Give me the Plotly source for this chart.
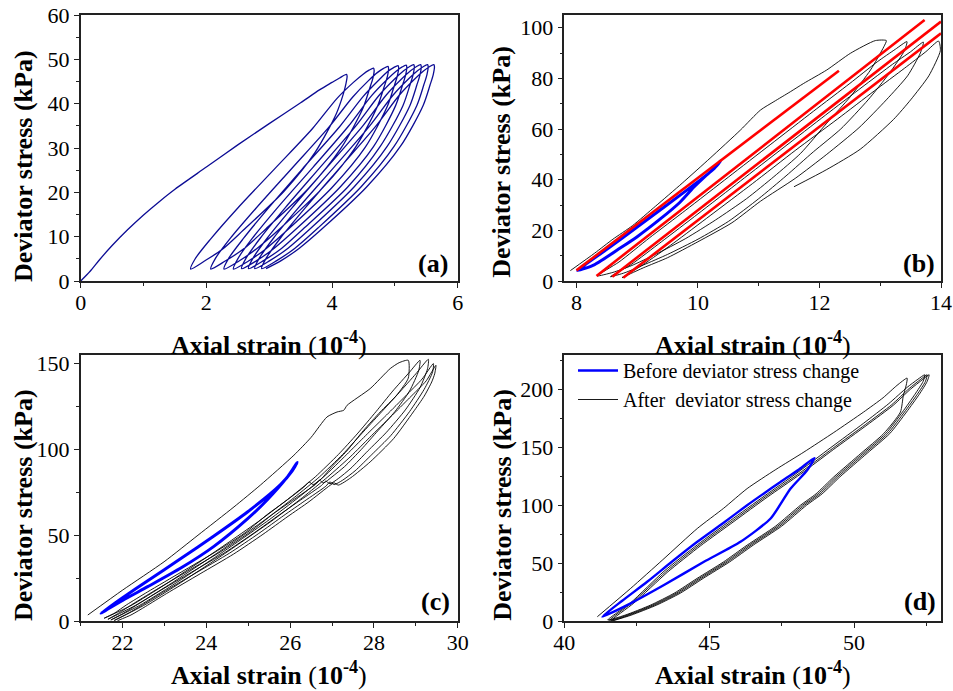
import plotly.graph_objects as go

SERIF = '"Liberation Serif", "Times New Roman", Times, serif'

# ---------------- Panel (a): cyclic loops, one continuous record ----------------
a_strain = [
    0, 0.15, 0.3, 0.5, 0.75, 1.0, 1.25, 1.5, 2.0, 2.5, 3.0, 3.5, 3.8, 4.0, 4.12, 4.23,
    4.24, 4.22, 4.18, 4.07, 3.73, 3.24, 2.59, 2.25, 1.97, 1.75,
    1.82, 2.07, 2.49, 3.09, 3.69, 4.08, 4.34, 4.49, 4.59, 4.66,
    4.67, 4.65, 4.60, 4.49, 4.14, 3.62, 2.95, 2.59, 2.30, 2.07,
    2.14, 2.38, 2.79, 3.37, 3.95, 4.33, 4.58, 4.72, 4.82, 4.89,
    4.90, 4.88, 4.83, 4.72, 4.37, 3.85, 3.17, 2.80, 2.52, 2.28,
    2.35, 2.59, 2.99, 3.55, 4.12, 4.50, 4.75, 4.88, 4.98, 5.05,
    5.06, 5.04, 4.99, 4.88, 4.53, 4.00, 3.32, 2.95, 2.67, 2.43,
    2.50, 2.73, 3.13, 3.70, 4.26, 4.63, 4.88, 5.02, 5.11, 5.18,
    5.19, 5.17, 5.12, 5.01, 4.66, 4.13, 3.45, 3.08, 2.80, 2.56,
    2.63, 2.86, 3.26, 3.82, 4.38, 4.75, 5.00, 5.14, 5.23, 5.30,
    5.31, 5.29, 5.24, 5.13, 4.77, 4.25, 3.56, 3.20, 2.91, 2.67,
    2.74, 2.97, 3.37, 3.93, 4.49, 4.86, 5.11, 5.25, 5.34, 5.41,
    5.42, 5.40, 5.35, 5.24, 4.88, 4.35, 3.67, 3.30, 3.01, 2.77,
    2.84, 3.07, 3.47, 4.04, 4.60, 4.97, 5.22, 5.36, 5.45, 5.52,
    5.53, 5.51, 5.46, 5.35, 4.99, 4.46, 3.78, 3.41, 3.12, 2.88,
    2.95, 3.18, 3.58, 4.14, 4.70, 5.07, 5.32, 5.46, 5.55, 5.62,
    5.63, 5.61, 5.56, 5.45, 5.09, 4.55, 3.86, 3.48, 3.19, 2.95,
]
a_stress = [
    0, 2.2, 4.8, 8.0, 11.6, 14.9, 17.9, 20.7, 25.7, 30.7, 35.5, 40.2, 43.1, 44.8, 45.8, 46.6,
    46.16, 44.4, 42.2, 37.8, 29.0, 20.3, 11.5, 7.1, 4.5, 2.7,
    4.97, 9.5, 16.3, 25.35, 34.4, 41.2, 44.8, 46.6, 47.55, 48.0,
    47.55, 45.7, 43.5, 38.9, 29.9, 20.8, 11.8, 7.2, 4.5, 2.7,
    5.0, 9.6, 16.4, 25.55, 34.7, 41.5, 45.2, 47.0, 47.95, 48.4,
    47.94, 46.1, 43.8, 39.3, 30.1, 21.0, 11.8, 7.3, 4.5, 2.7,
    5.0, 9.6, 16.5, 25.65, 34.8, 41.7, 45.4, 47.2, 48.14, 48.6,
    48.14, 46.3, 44.0, 39.4, 30.2, 21.1, 11.9, 7.3, 4.5, 2.7,
    5.0, 9.6, 16.5, 25.7, 34.9, 41.8, 45.5, 47.3, 48.24, 48.7,
    48.24, 46.4, 44.1, 39.5, 30.3, 21.2, 12.0, 7.4, 4.6, 2.8,
    5.1, 9.7, 16.6, 25.8, 35.0, 41.9, 45.6, 47.4, 48.34, 48.8,
    48.34, 46.5, 44.2, 39.6, 30.4, 21.2, 12.0, 7.4, 4.6, 2.8,
    5.1, 9.7, 16.6, 25.8, 35.0, 41.9, 45.6, 47.4, 48.34, 48.8,
    48.34, 46.5, 44.2, 39.6, 30.4, 21.2, 12.0, 7.4, 4.6, 2.8,
    5.1, 9.7, 16.6, 25.8, 35.0, 41.9, 45.6, 47.4, 48.34, 48.8,
    48.34, 46.5, 44.2, 39.6, 30.4, 21.2, 12.0, 7.4, 4.6, 2.8,
    5.1, 9.7, 16.6, 25.8, 35.0, 41.9, 45.6, 47.4, 48.34, 48.8,
    48.34, 46.5, 44.2, 39.6, 30.4, 21.2, 12.0, 7.4, 4.6, 2.8,
]

# ---------------- Panel (b) ----------------
b_after_strain = [
    7.90, 8.3, 8.6, 8.92, 9.3, 9.74, 10.2, 10.70, 11.03, 11.25, 11.52, 11.74, 12.12, 12.51, 12.92, 13.10,
    13.06, 12.84, 12.51, 12.12, 11.69, 11.25, 10.8, 10.29, 9.8, 9.3, 8.9, 8.6, 8.34,
    8.7, 9.2, 9.8, 10.5, 11.2, 11.9, 12.5, 12.95, 13.25, 13.44,
    13.40, 13.15, 12.80, 12.35, 11.90, 11.45, 11.0, 10.5, 10.0, 9.5, 9.1, 8.8, 8.56,
    8.9, 9.4, 10.0, 10.7, 11.4, 12.1, 12.7, 13.2, 13.5, 13.71,
    13.66, 13.45, 13.1, 12.65, 12.12, 11.6, 11.03, 10.56, 10.0, 9.5, 9.1, 8.9, 8.75,
    9.1, 9.6, 10.2, 10.9, 11.6, 12.3, 12.9, 13.4, 13.75, 13.96,
    13.99, 13.80, 13.5, 13.22, 12.67, 12.12, 11.58,
]
b_after_stress = [
    4.1, 11.0, 16.5, 21.8, 29.5, 38.6, 48.5, 59.6, 67.5, 70.8, 74.7, 78.0, 83.3, 89.9, 94.9, 94.9,
    92.5, 83.3, 72.8, 62.3, 50.4, 41.2, 32.5, 24.1, 16.8, 10.5, 6.0, 3.4, 2.0,
    7.5, 17.0, 28.0, 41.0, 54.0, 67.0, 78.0, 86.5, 91.5, 94.5,
    91.0, 82.0, 71.5, 60.0, 51.0, 41.5, 32.5, 23.5, 16.5, 10.5, 6.3, 3.3, 1.7,
    6.5, 15.5, 26.5, 39.5, 52.5, 65.5, 76.5, 85.5, 90.5, 94.3,
    90.0, 81.0, 71.5, 60.5, 50.0, 40.5, 31.5, 23.0, 15.5, 9.2, 5.2, 3.0, 1.3,
    6.5, 15.0, 25.8, 38.5, 51.5, 64.0, 75.0, 84.0, 90.5, 94.7,
    91.0, 81.0, 71.5, 63.8, 52.0, 44.0, 37.2,
]
b_before_strain = [8.02, 8.5, 9.0, 9.5, 10.0, 10.25, 10.37, 10.31, 10.15, 9.93, 9.7, 9.38, 9.0, 8.72, 8.3, 8.02]
b_before_stress = [4.1, 12.5, 21.3, 30.2, 39.2, 44.0, 47.3, 45.5, 42.0, 37.0, 31.0, 24.5, 17.5, 13.0, 6.5, 4.1]
b_fit_strain = [8.0, 12.32, None, 8.33, 13.73, None, 8.59, 14.0, None, 8.77, 14.0]
b_fit_stress = [4.2, 83.0, None, 2.0, 103.0, None, 1.7, 102.4, None, 1.3, 97.8]

# ---------------- Panel (c) ----------------
c_after_strain = [
    21.17, 22.0, 22.99, 23.8, 24.66, 25.29, 26.09, 26.5, 26.88, 27.12, 27.28, 27.36, 27.91, 28.39, 28.6, 28.82,
    28.82, 28.54, 28.15, 27.75, 27.35, 27.0, 26.75, 26.55, 26.45, 26.35, 25.9, 25.45, 24.9, 24.2, 23.4, 22.6, 22.1, 21.8, 21.56,
    22.2, 23.0, 24.0, 24.6, 25.3, 26.0, 26.6, 27.15, 27.6, 28.05, 28.45, 28.85, 29.10,
    29.07, 28.85, 28.5, 28.1, 27.7, 27.3, 27.0, 26.8, 26.7, 26.6, 26.1, 25.6, 25.05, 24.35, 23.55, 22.75, 22.25, 21.9, 21.65,
    22.3, 23.1, 24.1, 24.7, 25.4, 26.1, 26.7, 27.25, 27.7, 28.15, 28.6, 29.0, 29.30,
    29.28, 29.1, 28.75, 28.3, 27.85, 27.45, 27.15, 26.95, 26.85, 26.75, 26.25, 25.75, 25.15, 24.45, 23.65, 22.85, 22.35, 22.0, 21.72,
    22.4, 23.2, 24.2, 24.8, 25.5, 26.2, 26.8, 27.35, 27.8, 28.3, 28.75, 29.15, 29.42,
    29.40, 29.2, 28.85, 28.4, 27.95, 27.55, 27.25, 27.05, 26.95, 26.85, 26.35, 25.85, 25.25, 24.55, 23.75, 22.95, 22.45, 22.1, 21.80,
    22.5, 23.3, 24.3, 24.9, 25.6, 26.3, 26.9, 27.45, 27.9, 28.4, 28.85, 29.25, 29.48,
    29.45, 29.38, 29.2, 28.94, 28.47, 27.91, 27.45, 27.15, 27.05, 26.95, 26.45, 25.95, 25.35, 24.65, 23.85, 23.05, 22.55, 22.2, 21.88,
]
c_after_stress = [
    3.5, 18.0, 34.5, 50.0, 66.5, 79.2, 96.6, 107.0, 118.9, 121.8, 122.8, 125.7, 135.4, 147.1, 150.5, 151.9,
    141.5, 131.5, 121.8, 111.0, 99.0, 90.0, 83.0, 79.5, 81.0, 78.5, 70.0, 62.0, 51.0, 40.0, 28.5, 17.0, 9.5, 4.5, 1.6,
    9, 21, 37, 47, 59, 72, 84, 97, 109, 122, 134, 145, 151.9,
    146, 134, 122, 111, 100, 90, 84, 80.5, 82, 79.5, 71, 62.5, 52, 40.5, 29, 17.5, 10, 4.5, 1.0,
    9, 21, 37, 47, 59, 72, 84, 97, 109, 121, 133, 144, 152.5,
    147, 136, 123, 110, 99, 89, 83, 80, 81.5, 79, 70.5, 62, 51.5, 40, 28.5, 17, 9.5, 4.2, 0.6,
    9, 21, 37, 47, 59, 72, 84, 97, 108, 120, 131, 141, 150.0,
    145, 135, 122, 108, 97, 87.5, 82, 79.5, 81, 78.5, 70, 61.5, 51, 39.5, 28, 16.5, 9, 4, 0.3,
    9, 21, 37, 47, 59, 72, 84, 96, 107, 119, 130, 140, 149.0,
    144, 139.3, 131, 121.8, 106.3, 92.7, 83.5, 79.2, 80.5, 79.0, 69.5, 61, 50.5, 39, 27.5, 16, 8.5, 3.5, 0.2,
]
c_before_strain = [21.48, 22.0, 22.60, 23.4, 24.18, 24.98, 25.77, 26.05, 26.17, 26.09, 25.92, 25.45, 24.98, 24.18, 23.4, 22.60, 22.0, 21.48]
c_before_stress = [4.5, 13.5, 23.5, 36.5, 49.5, 63.5, 79.5, 87.5, 92.4, 89.5, 83.5, 70.5, 59.5, 43.5, 31.0, 20.0, 12.0, 4.5]

# ---------------- Panel (d) ----------------
d_after_strain = [
    41.14, 42.29, 43.4, 44.59, 45.5, 46.31, 47.3, 48.27, 49.3, 50.33, 51.0, 51.48, 51.83,
    51.80, 51.70, 51.60, 51.02, 50.24, 49.30, 48.69, 48.15, 47.29, 46.31, 45.49, 44.58, 43.79, 42.98, 42.09, 41.50,
    42.3, 43.44, 44.6, 45.74, 46.9, 48.03, 49.2, 50.33, 51.2, 51.83, 52.2, 52.44,
    52.38, 52.10, 51.67, 51.09, 50.31, 49.37, 48.76, 48.22, 47.36, 46.38, 45.56, 44.65, 43.86, 43.05, 42.16, 41.56,
    42.35, 43.5, 44.65, 45.8, 46.95, 48.1, 49.25, 50.4, 51.3, 51.9, 52.3, 52.52,
    52.46, 52.18, 51.74, 51.16, 50.38, 49.44, 48.83, 48.29, 47.43, 46.45, 45.63, 44.72, 43.93, 43.12, 42.23, 41.62,
    42.4, 43.55, 44.7, 45.85, 47.0, 48.15, 49.3, 50.45, 51.35, 51.95, 52.35, 52.59,
    52.52, 52.25, 51.81, 51.23, 50.45, 49.51, 48.9, 48.36, 47.5, 46.52, 45.7, 44.79, 44.0, 43.19, 42.3, 41.68,
]
d_after_stress = [
    3.7, 28.2, 53.0, 80.0, 97.5, 114.5, 131.0, 146.1, 163.0, 180.7, 193.0, 203.7, 210.0,
    204, 195, 180.7, 162, 145, 124.6, 110, 100.1, 82, 65.6, 51, 36.8, 24, 13.8, 5, 0.9,
    16, 43, 66, 87, 108, 128, 150, 171, 188, 202, 209, 212.9,
    207, 196, 180.7, 162, 145, 124.6, 110, 100.1, 82, 65.6, 51, 36.8, 24, 13.8, 5, 0.6,
    16, 42.5, 65.5, 86.5, 107.5, 127.5, 149, 170, 187, 201, 209, 212.9,
    207, 196, 180.7, 162, 145, 124.6, 110, 100.1, 82, 65.6, 51, 36.8, 24, 13.8, 5, 0.4,
    15.5, 42, 65, 86, 107, 127, 148.5, 169.5, 186.5, 200.5, 208.5, 212.9,
    207, 196, 180.7, 162, 145, 124.6, 110, 100.1, 82, 65.6, 51, 36.8, 24, 13.8, 5, 0.2,
]
d_before_strain = [41.31, 42.0, 42.86, 43.7, 44.59, 45.5, 46.31, 46.9, 47.46, 48.1, 48.63, 48.38, 47.81, 47.12, 46.08, 44.82, 43.44, 42.29, 41.31]
d_before_stress = [3.7, 17.5, 33.9, 51.0, 68.5, 85.0, 100.1, 110.5, 120.2, 131.0, 141.0, 130.3, 114.5, 88.6, 68.5, 51.2, 31.1, 15.3, 3.7]

panel_labels = ["(a)", "(b)", "(c)", "(d)"]
legend_names = ["Before deviator stress change", "After\u00a0 deviator stress change"]
x_title = "<b>Axial strain </b>(<b>10<sup>-4</sup></b>)"
y_title = "<b>Deviator stress (kPa)</b>"

fig = go.Figure()


def line(x, y, xa, ya, color, width, shape="spline", smooth=0.6, name=None, show=False, rank=1000):
    fig.add_trace(go.Scatter(
        x=x, y=y, xaxis=xa, yaxis=ya, mode="lines",
        line=dict(color=color, width=width, shape=shape, smoothing=smooth),
        name=name, showlegend=show, legendrank=rank, hoverinfo="skip"))


NAVY = "#0c0c94"
line(a_strain, a_stress, "x", "y", NAVY, 1.3, smooth=0.8)
line(b_after_strain, b_after_stress, "x2", "y2", "black", 0.9)
line(b_before_strain, b_before_stress, "x2", "y2", "#0000ff", 3)
line(b_fit_strain, b_fit_stress, "x2", "y2", "#ff0000", 2.6, shape="linear")
line(c_after_strain, c_after_stress, "x3", "y3", "black", 0.9)
line(c_before_strain, c_before_stress, "x3", "y3", "#0000ff", 3)
line(d_after_strain, d_after_stress, "x4", "y4", "black", 0.9, name=legend_names[1], show=True, rank=2)
line(d_before_strain, d_before_stress, "x4", "y4", "#0000ff", 2.4, name=legend_names[0], show=True, rank=1)

W, H = 953, 691
XD = [[80.7 / W, 457.7 / W], [564.3 / W, 941 / W]]
YD_TOP = [1 - 281 / H, 1 - 15 / H]
YD_BOT = [1 - 621 / H, 1 - 355 / H]

panels = [
    # xdomain, ydomain, xrange, xdtick, xminor, yrange, ydtick, yminor
    (XD[0], YD_TOP, [0, 6], 2, 1, [0, 60], 10, 5),
    (XD[1], YD_TOP, [7.8, 14], 2, 1, [0, 105], 20, 10),
    (XD[0], YD_BOT, [21, 30], 2, 1, [0, 155], 50, 25),
    (XD[1], YD_BOT, [40, 53], 5, 2.5, [0, 230], 50, 25),
]

AX = "#222222"
tickfont = dict(family=SERIF, size=22, color="black")
layout = {}
for i, (xd, yd, xr, xdt, xmn, yr, ydt, ymn) in enumerate(panels):
    n = "" if i == 0 else str(i + 1)
    common = dict(ticks="outside", ticklen=5, tickwidth=1.2, tickcolor=AX, showline=True,
                  linecolor=AX, linewidth=1.5, mirror=True, showgrid=False, zeroline=False,
                  tickfont=tickfont, automargin=False)
    layout["xaxis" + n] = dict(
        domain=xd, range=xr, anchor="y" + n, dtick=xdt, ticklabelstandoff=-4,
        minor=dict(dtick=xmn, ticks="outside", ticklen=3, tickwidth=1, tickcolor=AX), **common)
    layout["yaxis" + n] = dict(
        domain=yd, range=yr, anchor="x" + n, dtick=ydt,
        minor=dict(dtick=ymn, ticks="outside", ticklen=3, tickwidth=1, tickcolor=AX), **common)
    # inward-pointing ticks on the top and right frame edges
    m = str(i + 5)
    inner = dict(ticks="inside", ticklen=4, tickwidth=1, tickcolor=AX, showticklabels=False,
                 showline=False, showgrid=False, zeroline=False, automargin=False)
    layout["xaxis" + m] = dict(overlaying="x" + n, matches="x" + n, side="top", anchor="y" + n,
                               dtick=xmn, **inner)
    layout["yaxis" + m] = dict(overlaying="y" + n, matches="y" + n, side="right", anchor="x" + n,
                               dtick=ymn, **inner)

annotations = []
ytitle_pos = [(23, 166), (501.7, 162), (23, 505), (501.7, 505)]
xtitle_pos = [(269, 343), (753, 343), (269, 673), (753, 673)]
label_pos = [(450, 280), (937, 280), (451.7, 618), (938, 618)]
for i in range(4):
    px, py = ytitle_pos[i]
    annotations.append(dict(text=y_title, x=px / W, y=1 - py / H, xref="paper", yref="paper",
                            showarrow=False, textangle=-90, xanchor="center", yanchor="middle",
                            font=dict(family=SERIF, size=26, color="black")))
    px, py = xtitle_pos[i]
    annotations.append(dict(text=x_title, x=px / W, y=1 - py / H, xref="paper", yref="paper",
                            showarrow=False, xanchor="center", yanchor="middle",
                            font=dict(family=SERIF, size=26, color="black")))
    px, py = label_pos[i]
    annotations.append(dict(text="<b>" + panel_labels[i] + "</b>", x=px / W, y=1 - py / H,
                            xref="paper", yref="paper", showarrow=False,
                            xanchor="right", yanchor="bottom",
                            font=dict(family=SERIF, size=26, color="black")))

fig.update_layout(
    width=W, height=H, margin=dict(l=0, r=0, t=0, b=0, autoexpand=False),
    paper_bgcolor="white", plot_bgcolor="white",
    annotations=annotations,
    legend=dict(x=573 / W, y=1 - 351 / H, xanchor="left", yanchor="top",
                bgcolor="rgba(0,0,0,0)", borderwidth=0,
                font=dict(family=SERIF, size=20, color="black"),
                tracegroupgap=0, itemwidth=40),
    **layout,
)

fig.write_html("out.html", config={"displayModeBar": False},
               post_script="document.body.style.margin='0px';document.body.style.overflow='hidden';")
